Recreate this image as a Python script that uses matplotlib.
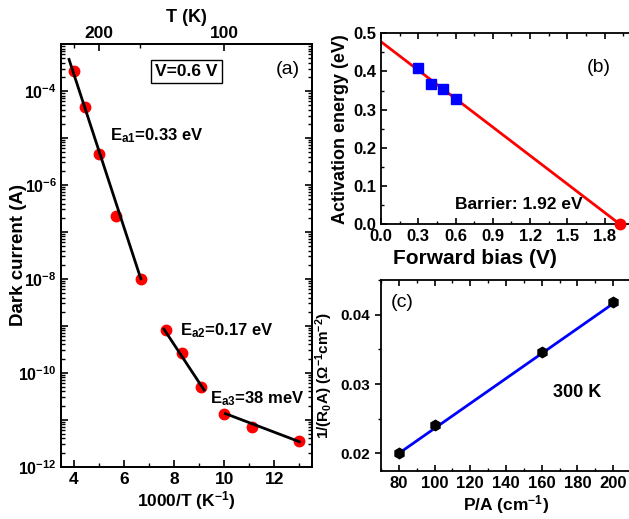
import numpy as np
import matplotlib
matplotlib.use('Agg')
import matplotlib.pyplot as plt
from matplotlib.ticker import LogLocator, FuncFormatter, MultipleLocator, NullFormatter

plt.rcParams['font.family'] = ['Liberation Sans', 'DejaVu Sans']
plt.rcParams['font.weight'] = 'bold'
plt.rcParams['axes.labelweight'] = 'bold'
plt.rcParams['mathtext.fontset'] = 'custom'
plt.rcParams['mathtext.rm'] = 'Liberation Sans:bold'
plt.rcParams['mathtext.it'] = 'Liberation Sans:bold'
plt.rcParams['mathtext.bf'] = 'Liberation Sans:bold'
plt.rcParams['axes.linewidth'] = 1.3
plt.rcParams['axes.unicode_minus'] = False

# (a) dark current vs 1000/T
inv_T = [4.0, 4.44, 5.0, 5.71, 6.67, 7.69, 8.33, 9.09, 10.0, 11.11, 13.0]
dark_current = [2.6e-4, 4.6e-5, 4.5e-6, 2.2e-7, 1.0e-8, 8.0e-10, 2.6e-10, 5.0e-11, 1.35e-11, 7.0e-12, 3.5e-12]
fit1_x = [3.82, 6.68]
fit1_y = [4.7e-4, 1.0e-8]
fit2_x = [7.6, 9.2]
fit2_y = [8.5e-10, 4.3e-11]
fit3_x = [10.05, 13.0]
fit3_y = [1.35e-11, 3.4e-12]
top_T_major = [200, 100]
top_T_minor = [250, 150]

# (b) activation energy vs forward bias
bias = [0.3, 0.4, 0.5, 0.6]
act_energy = [0.408, 0.366, 0.355, 0.329]
barrier_x = [1.92]
barrier_y = [0.0]
line_b_x = [0.0, 1.92]
line_b_y = [0.478, 0.0]

# (c) 1/(R0A) vs P/A
p_over_a = [80, 100, 160, 200]
inv_r0a = [0.0201, 0.0241, 0.0346, 0.0418]
line_c_x = [80, 200]
line_c_y = [0.0200, 0.0416]

fig = plt.figure(figsize=(6.29, 5.19), dpi=100)

# ---------------- panel (a)
ax1 = fig.add_axes([0.097, 0.1008, 0.399, 0.8144])
ax1.set_yscale('log')
ax1.plot(inv_T, dark_current, 'o', color='red', ms=7.5, zorder=2)
ax1.plot(fit1_x, fit1_y, '-', color='black', lw=2, zorder=3)
ax1.plot(fit2_x, fit2_y, '-', color='black', lw=2, zorder=3)
ax1.plot(fit3_x, fit3_y, '-', color='black', lw=2, zorder=3)
ax1.set_xlim(3.5, 13.5)
ax1.set_ylim(1e-12, 1e-3)
ax1.xaxis.set_major_locator(MultipleLocator(2))
ax1.xaxis.set_minor_locator(MultipleLocator(1))
ax1.yaxis.set_major_locator(LogLocator(base=10, numticks=20))
ax1.yaxis.set_minor_locator(LogLocator(base=10, subs=np.arange(2, 10), numticks=20))
ax1.yaxis.set_minor_formatter(NullFormatter())


def dec_fmt(v, pos):
    e = int(round(np.log10(v)))
    if e % 2:
        return ''
    return r'$10^{%d}$' % e


ax1.yaxis.set_major_formatter(FuncFormatter(dec_fmt))
ax1.tick_params(which='both', direction='in', right=True, labelsize=12.5)
ax1.tick_params(axis='y', labelsize=11.5, pad=3)
ax1.tick_params(which='major', length=5, width=1.2)
ax1.tick_params(which='minor', length=3, width=1)
ax1.set_xlabel('1000/T (K$^{-1}$)', fontsize=12.5, labelpad=2)
ax1.set_ylabel('Dark current (A)', fontsize=13.5)
ax1.yaxis.set_label_coords(-0.135, 0.5)

top = ax1.twiny()
top.set_xlim(ax1.get_xlim())
top.set_xticks([1000 / t for t in top_T_major])
top.set_xticklabels([str(t) for t in top_T_major])
top.set_xticks([1000 / t for t in top_T_minor], minor=True)
top.tick_params(which='both', direction='in', labelsize=12.5, pad=2)
top.tick_params(which='major', length=5, width=1.2)
top.tick_params(which='minor', length=3, width=1)
top.set_xlabel('T (K)', fontsize=13, labelpad=3)

ax1.text(0.95, 0.94, '(a)', transform=ax1.transAxes, fontsize=14,
         fontweight='normal', ha='right', va='center')
ax1.text(0.5, 0.935, 'V=0.6 V', transform=ax1.transAxes, fontsize=12.5,
         ha='center', va='center',
         bbox=dict(boxstyle='square,pad=0.25', fc='white', ec='black', lw=1))
ax1.text(5.45, 1.1e-5, 'E$_{a1}$=0.33 eV', fontsize=12, ha='left', va='center')
ax1.text(8.25, 8.0e-10, 'E$_{a2}$=0.17 eV', fontsize=12, ha='left', va='center')
ax1.text(9.45, 2.8e-11, 'E$_{a3}$=38 meV', fontsize=12, ha='left', va='center')

# ---------------- panel (b)
ax2 = fig.add_axes([0.6057, 0.5684, 0.3952, 0.3674])
ax2.plot(line_b_x, line_b_y, '-', color='red', lw=2, zorder=2)
ax2.plot(bias, act_energy, 's', color='blue', ms=7, zorder=3)
ax2.plot(barrier_x, barrier_y, 'o', color='red', ms=7.5, zorder=4, clip_on=False)
ax2.set_xlim(0, 2.0)
ax2.set_ylim(0, 0.5)
ax2.xaxis.set_major_locator(MultipleLocator(0.3))
ax2.xaxis.set_minor_locator(MultipleLocator(0.15))
ax2.yaxis.set_major_locator(MultipleLocator(0.1))
ax2.yaxis.set_minor_locator(MultipleLocator(0.05))
ax2.xaxis.set_major_formatter(FuncFormatter(lambda v, p: '%.1f' % v))
ax2.yaxis.set_major_formatter(FuncFormatter(lambda v, p: '%.1f' % v))
ax2.spines['right'].set_visible(False)
ax2.tick_params(which='both', direction='in', top=True, labelsize=12)
ax2.tick_params(which='major', length=4, width=1.2)
ax2.tick_params(which='minor', length=2.5, width=1)
ax2.set_xlabel('Forward bias (V)', fontsize=15, labelpad=1)
ax2.xaxis.set_label_coords(0.378, -0.13)
ax2.set_ylabel('Activation energy (eV)', fontsize=13, labelpad=3)
ax2.text(0.925, 0.82, '(b)', transform=ax2.transAxes, fontsize=14,
         fontweight='normal', ha='right', va='center')
ax2.text(1.11, 0.05, 'Barrier: 1.92 eV', fontsize=12.5, ha='center', va='center')

# ---------------- panel (c)
ax3 = fig.add_axes([0.6057, 0.0931, 0.3975, 0.3674])
ax3.plot(line_c_x, line_c_y, '-', color='blue', lw=2, zorder=2)
ax3.plot(p_over_a, inv_r0a, 'h', color='black', ms=7.5, zorder=3)
ax3.set_xlim(70, 210)
ax3.set_ylim(0.0175, 0.045)
ax3.xaxis.set_major_locator(MultipleLocator(20))
ax3.xaxis.set_minor_locator(MultipleLocator(10))
ax3.yaxis.set_major_locator(MultipleLocator(0.01))
ax3.yaxis.set_minor_locator(MultipleLocator(0.005))
ax3.yaxis.set_major_formatter(FuncFormatter(lambda v, p: '%.2f' % v))
ax3.spines['right'].set_visible(False)
ax3.tick_params(which='both', direction='in', top=True, labelsize=12)
ax3.tick_params(which='major', length=4, width=1.2)
ax3.tick_params(which='minor', length=2.5, width=1)
ax3.tick_params(axis='y', which='both', direction='out', labelsize=11)
ax3.set_xlabel('P/A (cm$^{-1}$)', fontsize=12.5, labelpad=2)
ax3.set_ylabel('1/(R$_0$A) (\u03a9$^{-1}$cm$^{-2}$)', fontsize=11, labelpad=4)
ax3.text(0.04, 0.88, '(c)', transform=ax3.transAxes, fontsize=14,
         fontweight='normal', ha='left', va='center')
ax3.text(179.7, 0.0288, '300 K', fontsize=13, ha='center', va='center')

fig.savefig('out.png', dpi=100)
